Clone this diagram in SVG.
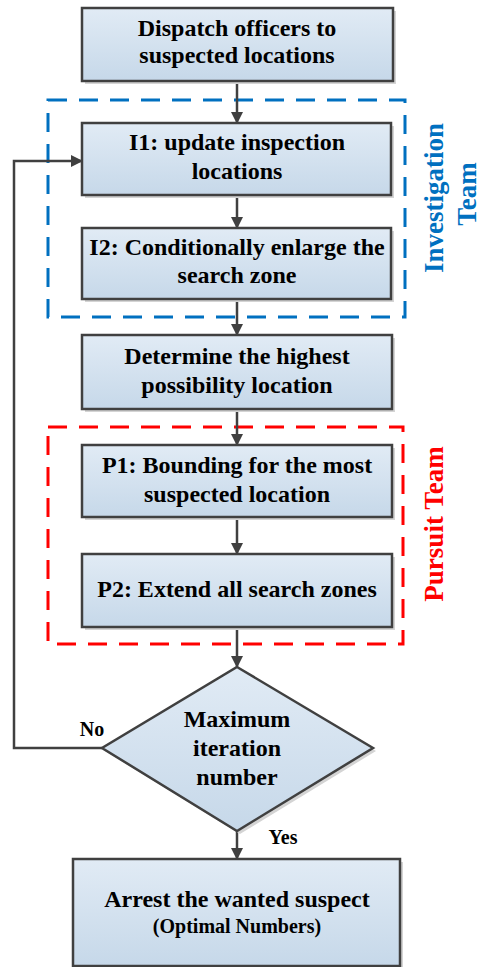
<svg xmlns="http://www.w3.org/2000/svg" width="481" height="967" viewBox="0 0 481 967">
<defs>
<linearGradient id="fillg" x1="0" y1="0" x2="0" y2="1">
<stop offset="0" stop-color="#e1ebf5"/>
<stop offset="1" stop-color="#c6d8e9"/>
</linearGradient>
<marker id="arr" markerWidth="12" markerHeight="12" viewBox="0 0 12 12" refX="11" refY="6" orient="auto" markerUnits="userSpaceOnUse">
<path d="M0,0 L12,6 L0,12 Z" fill="#404040"/>
</marker>
</defs>
<style>
.box{fill:url(#fillg);stroke:#404040;stroke-width:2.5}
.sh{fill:#d4d4d4}
text{font-family:'Liberation Serif','Times New Roman',Times,'DejaVu Serif',serif;font-weight:bold}
.t{font-size:24px;fill:#000;text-anchor:middle}
.s{font-size:20px}
.c{fill:none;stroke:#404040;stroke-width:2.5}
.team{font-size:27px;text-anchor:middle}
</style>
<rect width="481" height="967" fill="#fff"/>
<g id="investigation-team">
<rect x="48" y="100" width="357" height="217" fill="none" stroke="#0070c0" stroke-width="3" stroke-dasharray="19 12"/>
<text class="team" fill="#0070c0" transform="translate(443,198) rotate(-90)">Investigation</text>
<text class="team" fill="#0070c0" transform="translate(476,194) rotate(-90)">Team</text>
</g>
<g id="pursuit-team">
<rect x="48" y="427" width="355" height="217" fill="none" stroke="#ff0000" stroke-width="3" stroke-dasharray="19 12"/>
<text class="team" fill="#ff0000" transform="translate(443,524) rotate(-90)">Pursuit Team</text>
</g>
<g id="connectors">
<line class="c" x1="237" y1="81" x2="237" y2="123" marker-end="url(#arr)"/>
<line class="c" x1="237" y1="195" x2="237" y2="228" marker-end="url(#arr)"/>
<line class="c" x1="237" y1="299" x2="237" y2="335" marker-end="url(#arr)"/>
<line class="c" x1="237" y1="409" x2="237" y2="445" marker-end="url(#arr)"/>
<line class="c" x1="237" y1="517" x2="237" y2="554" marker-end="url(#arr)"/>
<line class="c" x1="237" y1="627" x2="237" y2="667" marker-end="url(#arr)"/>
<line class="c" x1="237" y1="831" x2="237" y2="859" marker-end="url(#arr)"/>
<polyline class="c" points="102,748 14,748 14,161 82,161" marker-end="url(#arr)"/>
<text class="t s" x="92" y="736">No</text>
<text class="t s" x="283" y="844">Yes</text>
</g>
<g id="dispatch">
<rect class="sh" x="85" y="11" width="311" height="73"/>
<rect class="box" x="82" y="8" width="311" height="73"/>
<text class="t" x="237" y="36">Dispatch officers to</text>
<text class="t" x="237" y="63">suspected locations</text>
</g>
<g id="i1">
<rect class="sh" x="85" y="126" width="309" height="72"/>
<rect class="box" x="82" y="123" width="309" height="72"/>
<text class="t" x="237" y="150">I1: update inspection</text>
<text class="t" x="237" y="179">locations</text>
</g>
<g id="i2">
<rect class="sh" x="85" y="231" width="309" height="71"/>
<rect class="box" x="82" y="228" width="309" height="71"/>
<text class="t" x="237" y="255">I2: Conditionally enlarge the</text>
<text class="t" x="237" y="283">search zone</text>
</g>
<g id="determine">
<rect class="sh" x="85" y="338" width="310" height="74"/>
<rect class="box" x="82" y="335" width="310" height="74"/>
<text class="t" x="237" y="364">Determine the highest</text>
<text class="t" x="237" y="393">possibility location</text>
</g>
<g id="p1">
<rect class="sh" x="85" y="448" width="310" height="72"/>
<rect class="box" x="82" y="445" width="310" height="72"/>
<text class="t" x="237" y="473">P1: Bounding for the most</text>
<text class="t" x="237" y="502">suspected location</text>
</g>
<g id="p2">
<rect class="sh" x="85" y="557" width="310" height="73"/>
<rect class="box" x="82" y="554" width="310" height="73"/>
<text class="t" x="237" y="597">P2: Extend all search zones</text>
</g>
<g id="decision">
<polygon points="240,670 376,751 240,834 105,751" fill="#d4d4d4"/>
<polygon class="box" points="237,667 373,748 237,831 102,748"/>
<text class="t" x="237" y="727">Maximum</text>
<text class="t" x="237" y="756">iteration</text>
<text class="t" x="237" y="785">number</text>
</g>
<g id="arrest">
<rect class="sh" x="76" y="862" width="327" height="107"/>
<rect class="box" x="73" y="859" width="327" height="107"/>
<text class="t" x="237" y="907">Arrest the wanted suspect</text>
<text class="t s" x="237" y="933">(Optimal Numbers)</text>
</g>
</svg>
